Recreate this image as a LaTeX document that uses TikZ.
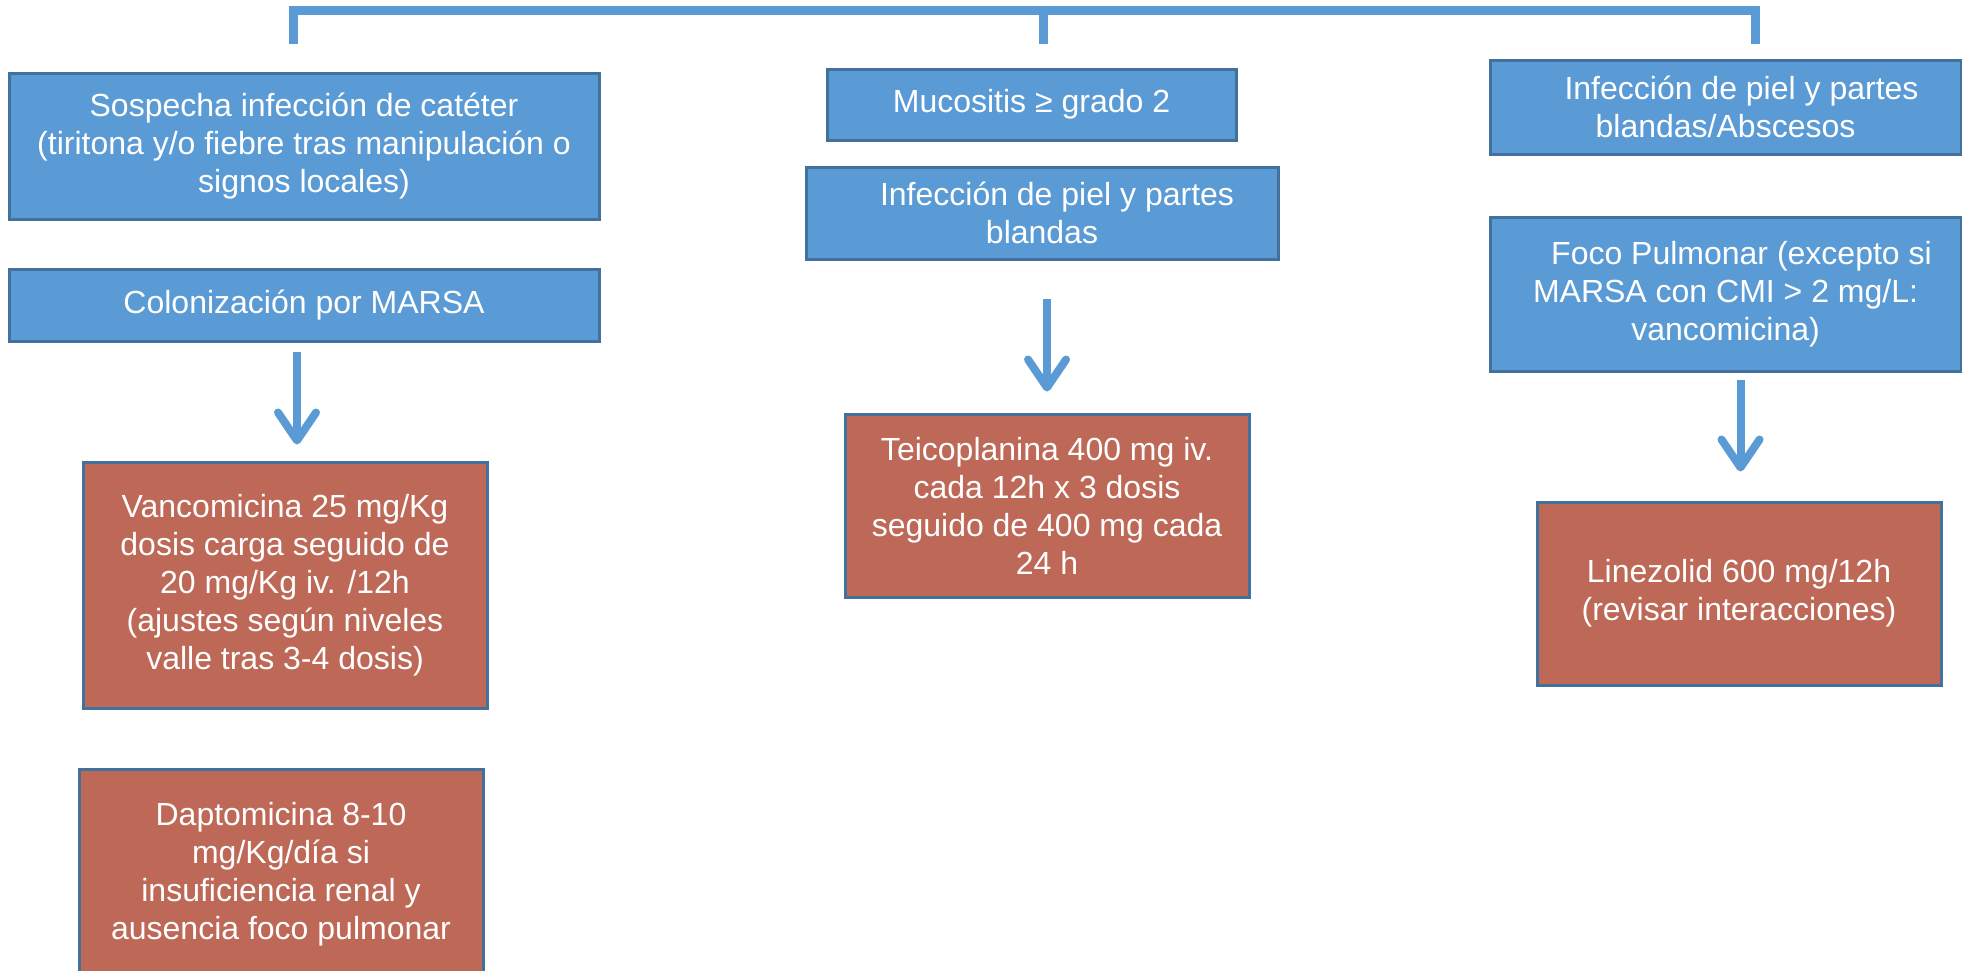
\documentclass[tikz,border=0pt]{standalone}
\usepackage{fontspec}
\setmainfont{Liberation Sans}
\usetikzlibrary{arrows.meta}
\definecolor{azul}{RGB}{91,155,213}
\definecolor{borde}{RGB}{65,113,156}
\definecolor{rojo}{RGB}{190,104,87}

\begin{document}
\begin{tikzpicture}[x=0.5pt,y=-0.5pt,
        caja/.style={draw=borde, line width=1.5pt, inner sep=0pt, align=center,
                text=white, font=\fontsize{16}{19}\selectfont},
        azulbox/.style={caja, fill=azul},
        rojobox/.style={caja, fill=rojo},
        flecha/.style={azul, line width=4pt, -{Straight Barb[length=14pt,width=19pt,round]}}]
        \useasboundingbox (0,0) rectangle (1962,970);
        % llave superior
        \coordinate (brL) at (293,44);
        \coordinate (brM) at (1043,44);
        \coordinate (brR) at (1755,44);
        \coordinate (topL) at (293,10.5);
        \coordinate (topR) at (1755,10.5);
        \draw[azul, line width=4.5pt] (brL) -- (topL) -- (topR) -- (brR);
        \draw[azul, line width=4.5pt] (brM) -- (brM |- topL);
        % columna izquierda
        \node[azulbox, minimum width=295pt, minimum height=73pt] (sospecha) at (304,146)
                {Sospecha infección de catéter\\(tiritona y/o fiebre tras manipulación o\\signos locales)};
        \node[azulbox, minimum width=295pt, minimum height=36pt] (colon) at (304,305)
                {Colonización por MARSA};
        \node[rojobox, minimum width=202pt, minimum height=123pt] (vanco) at (285,585)
                {Vancomicina 25 mg/Kg\\dosis carga seguido de\\20 mg/Kg iv. /12h\\(ajustes según niveles\\valle tras 3-4 dosis)};
        \node[rojobox, minimum width=202pt, minimum height=105pt] (dapto) at (281,874)
                {Daptomicina 8-10\\mg/Kg/día si\\insuficiencia renal y\\ausencia foco pulmonar};
        % columna central
        \node[azulbox, minimum width=204.5pt, minimum height=35.5pt] (mucos) at (1031.5,104.5)
                {Mucositis ≥ grado 2};
        \node[azulbox, minimum width=236pt, minimum height=46pt] (piel) at (1042,213)
                {\hspace*{15pt}Infección de piel y partes\\blandas};
        \node[rojobox, minimum width=202pt, minimum height=91.5pt] (teico) at (1047,505.5)
                {Teicoplanina 400 mg iv.\\cada 12h x 3 dosis\\seguido de 400 mg cada\\24 h};
        % columna derecha
        \node[azulbox, minimum width=235.5pt, minimum height=47pt] (absc) at (1725.5,107)
                {\hspace*{16pt}Infección de piel y partes\\blandas/Abscesos};
        \node[azulbox, minimum width=235.5pt, minimum height=77pt] (pulm) at (1725.5,294)
                {\hspace*{16pt}Foco Pulmonar (excepto si\\MARSA con CMI > 2 mg/L:\\vancomicina)};
        \node[rojobox, minimum width=202pt, minimum height=91.5pt] (linez) at (1739,593.5)
                {Linezolid 600 mg/12h\\(revisar interacciones)};
        % flechas
        \draw[flecha, shorten <=4.5pt, shorten >=8pt] ([xshift=-3.5pt]colon.south) -- ([xshift=-3.5pt]colon.south |- vanco.north);
        \draw[flecha, shorten <=19pt, shorten >=10.5pt] ([xshift=2.5pt]piel.south) -- ([xshift=2.5pt]piel.south |- teico.north);
        \draw[flecha, shorten <=3.5pt, shorten >=14.5pt] ([xshift=7.5pt]pulm.south) -- ([xshift=7.5pt]pulm.south |- linez.north);
\end{tikzpicture}
\end{document}
